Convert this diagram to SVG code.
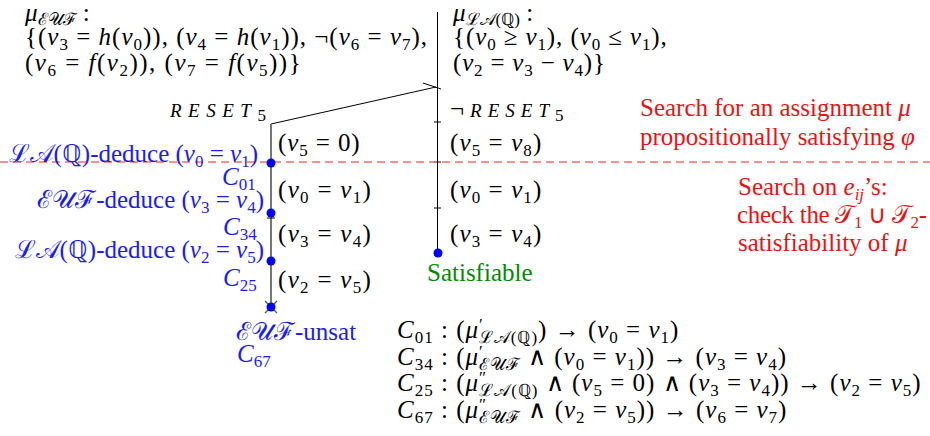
<svg xmlns="http://www.w3.org/2000/svg" width="930" height="436" viewBox="0 0 930 436">
<style>
text{font-size:25px;fill:#000}
.i{font-style:italic}
.sb{font-size:17px}
.rs{font-size:19px;font-style:italic}
.b{fill:#1a1aff}
.r{fill:#ee1111}
.g{fill:#008c00}
.ln{stroke:#000;stroke-width:1;fill:none}
.gl{stroke:#777;stroke-width:2;fill:none}
.x{stroke:#555;stroke-width:1.2}
.dot{fill:#0000ff}
</style>
<rect width="930" height="436" fill="#fff"/>
<g id="connectors">
<line class="ln" x1="437.5" y1="12" x2="437.5" y2="253"/>
<line class="ln" x1="271" y1="124" x2="436" y2="87"/>
<line class="ln" x1="423" y1="83" x2="441" y2="89"/>
<line class="ln" x1="434" y1="122" x2="441" y2="122"/>
<line class="ln" x1="434" y1="162" x2="441" y2="162"/>
<line class="ln" x1="434" y1="208" x2="441" y2="208"/>
<line class="gl" x1="271" y1="124" x2="271" y2="307"/>
<line class="ln" x1="267" y1="218" x2="275" y2="218"/>
<line class="x" x1="265" y1="301" x2="277" y2="313"/>
<line class="x" x1="277" y1="301" x2="265" y2="313"/>
<line x1="0" y1="162" x2="930" y2="162" stroke="#ff6a6a" stroke-width="1.4" stroke-dasharray="8,5"/>
</g>
<g font-family="'Liberation Serif', 'Times New Roman', Times, serif">
<g id="mu-euf">
<text x="25" y="21"><tspan class="i">μ</tspan><tspan class="sb" dy="4">ℰ𝒰ℱ</tspan><tspan dy="-4"> :</tspan></text>
<text x="25" y="45" letter-spacing="1">{(<tspan class="i">v</tspan><tspan class="sb" dy="5">3</tspan><tspan dy="-5"> = </tspan><tspan class="i">h</tspan>(<tspan class="i">v</tspan><tspan class="sb" dy="5">0</tspan><tspan dy="-5">)), (</tspan><tspan class="i">v</tspan><tspan class="sb" dy="5">4</tspan><tspan dy="-5"> = </tspan><tspan class="i">h</tspan>(<tspan class="i">v</tspan><tspan class="sb" dy="5">1</tspan><tspan dy="-5">)), ¬(</tspan><tspan class="i">v</tspan><tspan class="sb" dy="5">6</tspan><tspan dy="-5"> = </tspan><tspan class="i">v</tspan><tspan class="sb" dy="5">7</tspan><tspan dy="-5">),</tspan></text>
<text x="25" y="71" letter-spacing="1.5">(<tspan class="i">v</tspan><tspan class="sb" dy="5">6</tspan><tspan dy="-5"> = </tspan><tspan class="i">f</tspan>(<tspan class="i">v</tspan><tspan class="sb" dy="5">2</tspan><tspan dy="-5">)), (</tspan><tspan class="i">v</tspan><tspan class="sb" dy="5">7</tspan><tspan dy="-5"> = </tspan><tspan class="i">f</tspan>(<tspan class="i">v</tspan><tspan class="sb" dy="5">5</tspan><tspan dy="-5">))}</tspan></text>
</g>
<g id="mu-la">
<text x="453" y="21"><tspan class="i">μ</tspan><tspan class="sb" dy="4">ℒ𝒜(ℚ)</tspan><tspan dy="-4"> :</tspan></text>
<text x="453" y="45" letter-spacing="0.9">{(<tspan class="i">v</tspan><tspan class="sb" dy="5">0</tspan><tspan dy="-5"> ≥ </tspan><tspan class="i">v</tspan><tspan class="sb" dy="5">1</tspan><tspan dy="-5">), (</tspan><tspan class="i">v</tspan><tspan class="sb" dy="5">0</tspan><tspan dy="-5"> ≤ </tspan><tspan class="i">v</tspan><tspan class="sb" dy="5">1</tspan><tspan dy="-5">),</tspan></text>
<text x="453" y="71" letter-spacing="0.8">(<tspan class="i">v</tspan><tspan class="sb" dy="5">2</tspan><tspan dy="-5"> = </tspan><tspan class="i">v</tspan><tspan class="sb" dy="5">3</tspan><tspan dy="-5"> − </tspan><tspan class="i">v</tspan><tspan class="sb" dy="5">4</tspan><tspan dy="-5">)}</tspan></text>
</g>
<g id="branch-left">
<text x="170" y="117" letter-spacing="6.5"><tspan class="rs">RESET</tspan><tspan class="sb" dy="4">5</tspan></text>
<text x="278" y="151" letter-spacing="0.9">(<tspan class="i">v</tspan><tspan class="sb" dy="5">5</tspan><tspan dy="-5"> = 0)</tspan></text>
<text x="278" y="198" letter-spacing="1.3">(<tspan class="i">v</tspan><tspan class="sb" dy="5">0</tspan><tspan dy="-5"> = </tspan><tspan class="i">v</tspan><tspan class="sb" dy="5">1</tspan><tspan dy="-5">)</tspan></text>
<text x="278" y="242" letter-spacing="1.3">(<tspan class="i">v</tspan><tspan class="sb" dy="5">3</tspan><tspan dy="-5"> = </tspan><tspan class="i">v</tspan><tspan class="sb" dy="5">4</tspan><tspan dy="-5">)</tspan></text>
<text x="278" y="288" letter-spacing="1.3">(<tspan class="i">v</tspan><tspan class="sb" dy="5">2</tspan><tspan dy="-5"> = </tspan><tspan class="i">v</tspan><tspan class="sb" dy="5">5</tspan><tspan dy="-5">)</tspan></text>
<circle class="dot" cx="271" cy="163" r="4.5"/>
<circle class="dot" cx="271" cy="213" r="4.5"/>
<circle class="dot" cx="271" cy="261" r="4.5"/>
<circle class="dot" cx="271" cy="307" r="4.5"/>
<text class="b" x="258" y="162" text-anchor="end">ℒ𝒜(ℚ)-deduce (<tspan class="i">v</tspan><tspan class="sb" dy="5">0</tspan><tspan dy="-5"> = </tspan><tspan class="i">v</tspan><tspan class="sb" dy="5">1</tspan><tspan dy="-5">)</tspan></text>
<text class="b" x="222" y="185"><tspan class="i">C</tspan><tspan class="sb" dy="5">01</tspan></text>
<text class="b" x="264" y="208" text-anchor="end">ℰ𝒰ℱ-deduce (<tspan class="i">v</tspan><tspan class="sb" dy="5">3</tspan><tspan dy="-5"> = </tspan><tspan class="i">v</tspan><tspan class="sb" dy="5">4</tspan><tspan dy="-5">)</tspan></text>
<text class="b" x="223" y="235"><tspan class="i">C</tspan><tspan class="sb" dy="5">34</tspan></text>
<text class="b" x="264" y="258" text-anchor="end">ℒ𝒜(ℚ)-deduce (<tspan class="i">v</tspan><tspan class="sb" dy="5">2</tspan><tspan dy="-5"> = </tspan><tspan class="i">v</tspan><tspan class="sb" dy="5">5</tspan><tspan dy="-5">)</tspan></text>
<text class="b" x="223" y="286"><tspan class="i">C</tspan><tspan class="sb" dy="5">25</tspan></text>
<text class="b" x="236" y="340">ℰ𝒰ℱ-unsat</text>
<text class="b" x="237" y="362"><tspan class="i">C</tspan><tspan class="sb" dy="5">67</tspan></text>
</g>
<g id="branch-right">
<text x="450" y="117" letter-spacing="6"><tspan>¬</tspan><tspan class="rs">RESET</tspan><tspan class="sb" dy="4">5</tspan></text>
<text x="450" y="151" letter-spacing="1.1">(<tspan class="i">v</tspan><tspan class="sb" dy="5">5</tspan><tspan dy="-5"> = </tspan><tspan class="i">v</tspan><tspan class="sb" dy="5">8</tspan><tspan dy="-5">)</tspan></text>
<text x="450" y="198" letter-spacing="1.1">(<tspan class="i">v</tspan><tspan class="sb" dy="5">0</tspan><tspan dy="-5"> = </tspan><tspan class="i">v</tspan><tspan class="sb" dy="5">1</tspan><tspan dy="-5">)</tspan></text>
<text x="450" y="242" letter-spacing="1.1">(<tspan class="i">v</tspan><tspan class="sb" dy="5">3</tspan><tspan dy="-5"> = </tspan><tspan class="i">v</tspan><tspan class="sb" dy="5">4</tspan><tspan dy="-5">)</tspan></text>
<circle class="dot" cx="438" cy="253" r="4.5"/>
<text class="g" x="427" y="281" font-size="22">Satisfiable</text>
</g>
<g id="notes">
<text class="r" x="640" y="116">Search for an assignment <tspan class="i">μ</tspan></text>
<text class="r" x="640" y="145">propositionally satisfying <tspan class="i">φ</tspan></text>
<text class="r" x="738" y="195">Search on <tspan class="i">e</tspan><tspan class="sb i" dy="5">ij</tspan><tspan dy="-5">’s:</tspan></text>
<text class="r" x="737" y="223" letter-spacing="-0.3">check the 𝒯<tspan class="sb" dy="5">1</tspan><tspan dy="-5"> ∪ 𝒯</tspan><tspan class="sb" dy="5">2</tspan><tspan dy="-5">-</tspan></text>
<text class="r" x="738" y="251">satisfiability of <tspan class="i">μ</tspan></text>
</g>
<g id="clauses">
<text x="397" y="338" letter-spacing="1"><tspan class="i">C</tspan><tspan class="sb" dy="5">01</tspan><tspan dy="-5"> : (</tspan><tspan class="i">μ</tspan><tspan class="sb" dy="-8">′</tspan><tspan class="sb" dy="13" dx="-5">ℒ𝒜(ℚ)</tspan><tspan dy="-5">) → (</tspan><tspan class="i">v</tspan><tspan class="sb" dy="5">0</tspan><tspan dy="-5"> = </tspan><tspan class="i">v</tspan><tspan class="sb" dy="5">1</tspan><tspan dy="-5">)</tspan></text>
<text x="397" y="365" letter-spacing="1"><tspan class="i">C</tspan><tspan class="sb" dy="5">34</tspan><tspan dy="-5"> : (</tspan><tspan class="i">μ</tspan><tspan class="sb" dy="-8">′</tspan><tspan class="sb" dy="13" dx="-5">ℰ𝒰ℱ</tspan><tspan dy="-5"> ∧ (</tspan><tspan class="i">v</tspan><tspan class="sb" dy="5">0</tspan><tspan dy="-5"> = </tspan><tspan class="i">v</tspan><tspan class="sb" dy="5">1</tspan><tspan dy="-5">)) → (</tspan><tspan class="i">v</tspan><tspan class="sb" dy="5">3</tspan><tspan dy="-5"> = </tspan><tspan class="i">v</tspan><tspan class="sb" dy="5">4</tspan><tspan dy="-5">)</tspan></text>
<text x="397" y="391" letter-spacing="1"><tspan class="i">C</tspan><tspan class="sb" dy="5">25</tspan><tspan dy="-5"> : (</tspan><tspan class="i">μ</tspan><tspan class="sb" dy="-8">″</tspan><tspan class="sb" dy="13" dx="-8">ℒ𝒜(ℚ)</tspan><tspan dy="-5"> ∧ (</tspan><tspan class="i">v</tspan><tspan class="sb" dy="5">5</tspan><tspan dy="-5"> = 0) ∧ (</tspan><tspan class="i">v</tspan><tspan class="sb" dy="5">3</tspan><tspan dy="-5"> = </tspan><tspan class="i">v</tspan><tspan class="sb" dy="5">4</tspan><tspan dy="-5">)) → (</tspan><tspan class="i">v</tspan><tspan class="sb" dy="5">2</tspan><tspan dy="-5"> = </tspan><tspan class="i">v</tspan><tspan class="sb" dy="5">5</tspan><tspan dy="-5">)</tspan></text>
<text x="397" y="418" letter-spacing="1"><tspan class="i">C</tspan><tspan class="sb" dy="5">67</tspan><tspan dy="-5"> : (</tspan><tspan class="i">μ</tspan><tspan class="sb" dy="-8">″</tspan><tspan class="sb" dy="13" dx="-8">ℰ𝒰ℱ</tspan><tspan dy="-5"> ∧ (</tspan><tspan class="i">v</tspan><tspan class="sb" dy="5">2</tspan><tspan dy="-5"> = </tspan><tspan class="i">v</tspan><tspan class="sb" dy="5">5</tspan><tspan dy="-5">)) → (</tspan><tspan class="i">v</tspan><tspan class="sb" dy="5">6</tspan><tspan dy="-5"> = </tspan><tspan class="i">v</tspan><tspan class="sb" dy="5">7</tspan><tspan dy="-5">)</tspan></text>
</g>
</g>
</svg>
